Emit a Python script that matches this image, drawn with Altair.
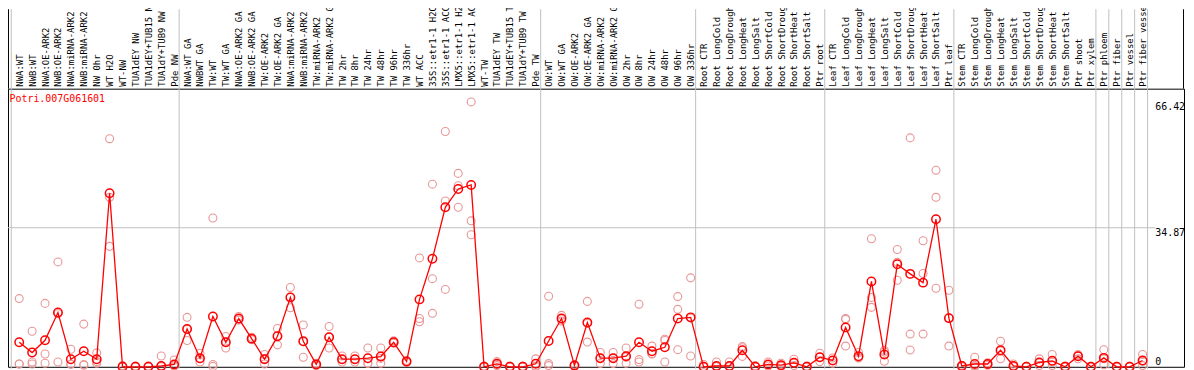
import altair as alt
import pandas as pd

labels = [
    "NWA:WT", "NWB:WT", "NWA:OE-ARK2", "NWB:OE-ARK2", "NWA:miRNA-ARK2", "NWB:miRNA-ARK2",
    "NW 0hr", "WT H2O", "WT-NW", "TUA1dEY NW", "TUA1dEY+TUB15 NW", "TUA1dY+TUB9 NW", "Pde NW",
    "NWA:WT GA", "NWBWT GA", "TW:WT", "TW:WT GA", "NWA:OE-ARK2 GA", "NWB:OE-ARK2 GA",
    "TW:OE-ARK2", "TW:OE-ARK2 GA", "NWA:miRNA-ARK2 GA", "NWB:miRNA-ARK2 GA", "TW:miRNA-ARK2",
    "TW:miRNA-ARK2 GA", "TW 2hr", "TW 8hr", "TW 24hr", "TW 48hr", "TW 96hr", "TW 336hr",
    "WT ACC", "35S::etr1-1 H2O", "35S::etr1-1 ACC", "LMX5::etr1-1 H2O", "LMX5::etr1-1 ACC",
    "WT-TW", "TUA1dEY TW", "TUA1dEY+TUB15 TW", "TUA1dY+TUB9 TW", "Pde TW",
    "OW:WT", "OW:WT GA", "OW:OE-ARK2", "OW:OE-ARK2 GA", "OW:miRNA-ARK2", "OW:miRNA-ARK2 GA",
    "OW 2hr", "OW 8hr", "OW 24hr", "OW 48hr", "OW 96hr", "OW 336hr",
    "Root CTR", "Root LongCold", "Root LongDrought", "Root LongHeat", "Root LongSalt",
    "Root ShortCold", "Root ShortDrought", "Root ShortHeat", "Root ShortSalt", "Ptr root",
    "Leaf CTR", "Leaf LongCold", "Leaf LongDrought", "Leaf LongHeat", "Leaf LongSalt",
    "Leaf ShortCold", "Leaf ShortDrought", "Leaf ShortHeat", "Leaf ShortSalt", "Ptr leaf",
    "Stem CTR", "Stem LongCold", "Stem LongDrought", "Stem LongHeat", "Stem LongSalt",
    "Stem ShortCold", "Stem ShortDrought", "Stem ShortHeat", "Stem ShortSalt", "Ptr shoot",
    "Ptr xylem", "Ptr phloem", "Ptr fiber", "Ptr vessel", "Ptr fiber vessel",
]

means = [
    6.15, 3.57, 6.64, 13.6, 1.91, 3.9, 1.91, 43.5, 0.0, 0.0, 0.0, 0.2, 0.6,
    9.46, 2.16, 12.6, 6.15, 12.1, 7.06, 1.91, 7.64, 17.4, 6.39, 0.6, 7.39, 1.91, 1.91,
    2.16, 2.57, 6.15, 1.33, 16.9, 27.1, 40.0, 44.6, 45.6, 0.0, 0.75, 0.0, 0.0, 0.75,
    6.48, 12.1, 0.35, 11.1, 2.16, 2.16, 2.66, 6.15, 3.9, 4.9, 12.1, 12.4,
    0.0, 0.2, 0.2, 4.15, 0.0, 0.6, 0.4, 1.0, 0.0, 2.4,
    1.58, 9.88, 2.66, 21.4, 3.06, 25.7, 23.3, 21.1, 37.0, 12.2,
    0.2, 0.7, 0.7, 4.15, 0.2, 0.0, 1.08, 1.5, 0.0, 2.66,
    0.0, 2.24, 0.0, 0.0, 1.58,
]

reps = [
    [17.1, 0.7, 0.7], [8.9, 1.2, 0.7], [15.9, 3.2, 0.9], [26.3, 13.3, 1.2],
    [4.4, 0.7, 0.6], [10.7, 0.6, 0.4], [3.5, 1.3, 0.9], [57.2, 42.5, 30.2],
    [0.3, 0.1, 0.0], [0.2, 0.1, 0.0], [0.2, 0.1, 0.0], [2.7, 0.2, 0.0], [1.7, 0.4, 0.2],
    [12.4, 9.4, 6.6], [3.4, 2.0, 1.2], [37.3, 0.6, 0.1], [7.6, 6.2, 4.7],
    [12.6, 12.0, 11.7], [7.4, 7.0, 6.8], [3.1, 2.0, 0.7], [9.6, 7.8, 5.5],
    [19.9, 17.5, 14.8], [10.5, 6.3, 2.4], [0.9, 0.6, 0.3], [10.1, 7.4, 4.7],
    [2.7, 1.9, 1.2], [2.7, 1.9, 1.2], [4.7, 0.9, 0.9], [4.7, 2.1, 0.9],
    [6.5, 6.1, 5.9], [1.6, 1.3, 1.1], [27.3, 12.1, 11.3], [45.8, 22.1, 13.4],
    [59.0, 41.6, 19.4], [48.5, 45.4, 40.0], [66.42, 36.6, 33.1], [0.2, 0.0, 0.0],
    [1.3, 0.6, 0.3], [0.2, 0.0, 0.0], [0.2, 0.0, 0.0], [2.0, 0.2, 0.0],
    [17.7, 0.8, 0.3], [12.9, 12.0, 11.5], [0.6, 0.3, 0.2], [16.4, 10.9, 6.2],
    [3.6, 2.2, 0.8], [3.6, 2.2, 0.8], [4.7, 2.4, 0.9], [15.7, 1.8, 1.2],
    [5.2, 3.3, 3.2], [6.9, 6.6, 1.2], [17.6, 14.4, 4.3], [22.3, 12.2, 2.7],
    [0.6, 0.1, 0.0], [1.2, 0.2, 0.0], [1.2, 0.2, 0.0], [5.1, 4.8, 2.6],
    [0.3, 0.0, 0.0], [1.2, 0.5, 0.2], [0.9, 0.4, 0.1], [1.9, 1.0, 0.3],
    [0.2, 0.0, 0.0], [3.4, 2.4, 1.3],
    [2.2, 1.6, 0.9], [12.1, 11.9, 5.2], [3.6, 2.3, 2.2], [32.1, 17.4, 14.9],
    [4.1, 3.7, 1.4], [29.4, 26.2, 21.7], [57.4, 8.2, 4.2], [31.6, 23.4, 8.2],
    [49.3, 42.5, 19.7], [19.2, 12.3, 5.2],
    [0.4, 0.1, 0.0], [2.4, 0.3, 0.0], [1.0, 0.6, 0.4], [6.4, 4.0, 2.0],
    [0.7, 0.2, 0.0], [0.1, 0.0, 0.0], [2.0, 1.0, 0.3], [3.1, 1.2, 0.3],
    [0.2, 0.0, 0.0], [3.1, 2.7, 2.0],
    [0.1, 0.0, 0.0], [4.3, 2.0, 0.5], [0.1, 0.0, 0.0], [0.1, 0.0, 0.0], [3.1, 1.4, 0.3],
]

group_starts = [0, 13, 41, 53, 63, 73, 84, 85, 86, 87, 88]
y_ticks = [0, 34.87, 66.42]
y_max = 69.74
gene = "Potri.007G061601"

RED = "#ff0000"
PINK = "#e89696"
GRID = "#c0c0c0"
FONT = "DejaVu Sans Mono"

n = len(labels)
assert len(means) == n and len(reps) == n

mean_df = pd.DataFrame({"i": list(range(n)), "value": means, "label": labels})
rep_df = pd.DataFrame([{"i": i, "value": v} for i, vs in enumerate(reps) for v in vs])
grid_df = pd.DataFrame({"gx": [s - 0.615 for s in group_starts]})
ytxt_df = pd.DataFrame({"v": y_ticks, "t": ["0", "34.87", "66.42"]})

x_scale = alt.Scale(domain=[-0.869, 90.208], nice=False, zero=False)
y_scale = alt.Scale(domain=[0, y_max], nice=False, zero=False)

X = alt.X("i:Q", scale=x_scale, axis=None)
Y = alt.Y("value:Q", scale=y_scale, axis=None)

vgrid = alt.Chart(grid_df).mark_rule(color=GRID, strokeWidth=1).encode(
    x=alt.X("gx:Q", scale=x_scale, axis=None),
    y=alt.value(-80), y2=alt.value(282),
)
hgrid = alt.Chart(ytxt_df).transform_filter("datum.v > 0 && datum.v < 50").mark_rule(
    color=GRID, strokeWidth=1).encode(
    y=alt.Y("v:Q", scale=y_scale, axis=None), x=alt.value(0), x2=alt.value(1155),
)
frame = alt.Chart(pd.DataFrame({"px": [0.5, 1183.5]})).mark_rule(color="black", strokeWidth=1).encode(
    x=alt.X("px:Q", scale=None), y=alt.value(-80), y2=alt.value(0),
)
cat_labels = alt.Chart(mean_df).mark_text(
    angle=270, align="left", baseline="middle", font=FONT, fontSize=9, color="black",
    dy=0.5).encode(
    x=X, y=alt.value(-2), text="label:N",
)
rep_layer = alt.Chart(rep_df).mark_point(
    shape="circle", filled=False, color=PINK, size=64, strokeWidth=1.1, opacity=1).encode(
    x=X, y=Y,
)
line = alt.Chart(mean_df).mark_line(color=RED, strokeWidth=1.3).encode(x=X, y=Y)
mean_pts = alt.Chart(mean_df).mark_point(
    shape="circle", filled=False, color=RED, size=72, strokeWidth=1.5, opacity=1).encode(
    x=X, y=Y,
)
ytxt_top = alt.Chart(ytxt_df).transform_filter("datum.v > 0").mark_text(
    align="left", baseline="top", font=FONT, fontSize=10, color="black").encode(
    y=alt.Y("v:Q", scale=y_scale, axis=None), x=alt.value(1155), text="t:N",
)
ytxt_bot = alt.Chart(ytxt_df).transform_filter("datum.v == 0").mark_text(
    align="left", baseline="bottom", font=FONT, fontSize=10, color="black").encode(
    y=alt.Y("v:Q", scale=y_scale, axis=None), x=alt.value(1155), text="t:N",
)
gene_txt = alt.Chart(pd.DataFrame({"t": [gene]})).mark_text(
    align="left", baseline="top", font=FONT, fontSize=10, color=RED).encode(
    x=alt.value(1.5), y=alt.value(5), text="t:N",
)

chart = alt.layer(
    vgrid, hgrid, frame, cat_labels, rep_layer, line, mean_pts, ytxt_top, ytxt_bot, gene_txt
).properties(
    width=1184, height=280,
    padding={"left": 0, "top": 80, "right": 2, "bottom": 2},
    autosize=alt.AutoSizeParams(type="none"),
).configure(
    background="white",
    view=alt.ViewConfig(stroke="black", strokeWidth=1),
)

chart.save("out.html", embed_options={"renderer": "svg", "actions": False})
